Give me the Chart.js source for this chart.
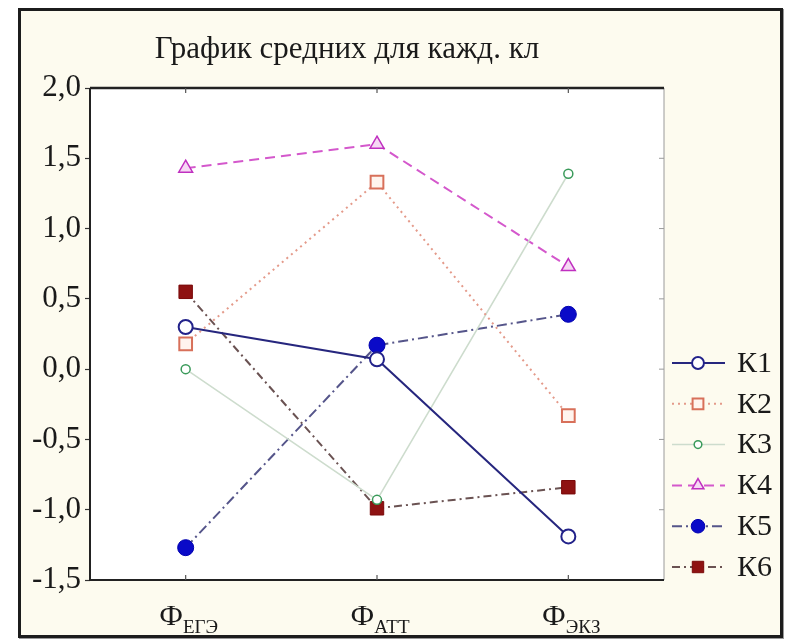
<!DOCTYPE html>
<html>
<head>
<meta charset="utf-8">
<script src="https://cdn.jsdelivr.net/npm/chart.js@4.4.1/dist/chart.umd.min.js"></script>
<style>
  html, body { margin: 0; padding: 0; background: #ffffff; width: 792px; height: 640px; overflow: hidden; }
  #frame { position: absolute; left: 18px; top: 8px; width: 759px; height: 624px;
           border: 3px solid #1c1c1c; background: #fdfbef; box-shadow: 1px 1px 0 #999; }
  canvas { display: block; }
</style>
</head>
<body>
<div id="frame"><canvas id="c" width="759" height="624"></canvas></div>
<script>
// ---- data ----
const categories = ["ФЕГЭ", "ФАТТ", "ФЭКЗ"];
const xMain = ["Ф", "Ф", "Ф"];
const xSub = ["ЕГЭ", "АТТ", "ЭКЗ"];
const seriesNames = ["К1", "К2", "К3", "К4", "К5", "К6"];
const k1 = [0.30, 0.07, -1.19];
const k2 = [0.18, 1.33, -0.33];
const k3 = [0.00, -0.93, 1.39];
const k4 = [1.43, 1.60, 0.73];
const k5 = [-1.27, 0.17, 0.39];
const k6 = [0.55, -0.99, -0.84];
const yTicks = [2.0, 1.5, 1.0, 0.5, 0.0, -0.5, -1.0, -1.5];
const titleText = "График средних для кажд. кл";

const SERIF = "'Liberation Serif', 'DejaVu Serif', serif";

const datasets = [
  { label: seriesNames[0], data: k1, borderColor: '#26267e', borderWidth: 2, borderDash: [],
    pointStyle: 'circle', pointRadius: 7, pointBorderWidth: 2, pointBorderColor: '#22228a', pointBackgroundColor: '#ffffff' },
  { label: seriesNames[1], data: k2, borderColor: '#e49a8a', borderWidth: 2, borderDash: [2, 4],
    pointStyle: 'rect', pointRadius: 9, pointBorderWidth: 2, pointBorderColor: '#d8705a', pointBackgroundColor: '#fff4ee' },
  { label: seriesNames[2], data: k3, borderColor: '#cddccd', borderWidth: 1.5, borderDash: [],
    pointStyle: 'circle', pointRadius: 4.5, pointBorderWidth: 1.5, pointBorderColor: '#3a9a5a', pointBackgroundColor: '#ffffff' },
  { label: seriesNames[3], data: k4, borderColor: '#d458cc', borderWidth: 2, borderDash: [10, 6],
    pointStyle: 'triangle', pointRadius: 8, pointBorderWidth: 1.5, pointBorderColor: '#c030c0', pointBackgroundColor: '#f6d8f4' },
  { label: seriesNames[4], data: k5, borderColor: '#55558a', borderWidth: 2, borderDash: [10, 4, 2, 4],
    pointStyle: 'circle', pointRadius: 8, pointBorderWidth: 1, pointBorderColor: '#0000b0', pointBackgroundColor: '#0a0ac8' },
  { label: seriesNames[5], data: k6, borderColor: '#6a5252', borderWidth: 2, borderDash: [8, 4, 2, 4],
    pointStyle: 'rect', pointRadius: 9.5, pointBorderWidth: 1, pointBorderColor: '#7a0a0a', pointBackgroundColor: '#8e1212' }
];
datasets.forEach(d => { d.fill = false; d.tension = 0; d.pointHoverRadius = d.pointRadius; });

const framePlugin = {
  id: 'framePlugin',
  beforeDatasetsDraw(chart) {
    const { ctx, chartArea: a } = chart;
    ctx.save();
    ctx.fillStyle = '#ffffff';
    ctx.fillRect(a.left, a.top, a.right - a.left, a.bottom - a.top);
    ctx.restore();
  },
  beforeDraw(chart) {},
  afterDatasetsDraw(chart) {
    const { ctx, chartArea: a, scales } = chart;
    ctx.save();
    // right border thin grey with small ticks
    ctx.strokeStyle = '#9a9a9a'; ctx.lineWidth = 1;
    ctx.beginPath(); ctx.moveTo(a.right, a.top); ctx.lineTo(a.right, a.bottom); ctx.stroke();
    yTicks.forEach(v => {
      const y = scales.y.getPixelForValue(v);
      ctx.beginPath(); ctx.moveTo(a.right - 5, y); ctx.lineTo(a.right, y); ctx.stroke();
    });
    // top, left, bottom dark
    ctx.strokeStyle = '#222'; ctx.lineWidth = 2.5;
    ctx.beginPath(); ctx.moveTo(a.left, a.top); ctx.lineTo(a.right, a.top); ctx.stroke();
    ctx.lineWidth = 2;
    ctx.beginPath(); ctx.moveTo(a.left, a.top); ctx.lineTo(a.left, a.bottom); ctx.lineTo(a.right, a.bottom); ctx.stroke();
    // small category ticks at bottom and top
    ctx.lineWidth = 1.2; ctx.strokeStyle = '#555';
    categories.forEach((c, i) => {
      const x = scales.x.getPixelForValue(i);
      ctx.beginPath(); ctx.moveTo(x, a.bottom); ctx.lineTo(x, a.bottom - 5); ctx.stroke();
      ctx.beginPath(); ctx.moveTo(x, a.top); ctx.lineTo(x, a.top + 5); ctx.stroke();
    });
    ctx.restore();
  },
  afterDraw(chart) {
    const { ctx, chartArea: a, scales } = chart;
    ctx.save();
    // title
    ctx.fillStyle = '#1a1a1a';
    ctx.font = '31px ' + SERIF;
    ctx.textAlign = 'center'; ctx.textBaseline = 'middle';
    ctx.fillText(titleText, 326, 39);
    // x labels with subscripts
    categories.forEach((c, i) => {
      const x = scales.x.getPixelForValue(i);
      ctx.font = '30px ' + SERIF;
      const w1 = ctx.measureText(xMain[i]).width;
      ctx.font = '19px ' + SERIF;
      const w2 = ctx.measureText(xSub[i]).width;
      const start = x + 3 - (w1 + w2) / 2;
      ctx.textAlign = 'left'; ctx.textBaseline = 'alphabetic';
      ctx.font = '30px ' + SERIF;
      ctx.fillText(xMain[i], start, a.bottom + 45);
      ctx.font = '19px ' + SERIF;
      ctx.fillText(xSub[i], start + w1, a.bottom + 53);
    });
    // legend
    const lx0 = 651, lx1 = 704, mx = 677, tx = 716;
    chart.data.datasets.forEach((d, i) => {
      const y = 352 + i * 40.8;
      ctx.save();
      ctx.strokeStyle = d.borderColor; ctx.lineWidth = d.borderWidth;
      ctx.setLineDash(d.borderDash || []);
      ctx.beginPath(); ctx.moveTo(lx0, y); ctx.lineTo(lx1, y); ctx.stroke();
      ctx.restore();
      ctx.save();
      ctx.fillStyle = d.pointBackgroundColor; ctx.strokeStyle = d.pointBorderColor;
      ctx.lineWidth = d.pointBorderWidth;
      Chart.helpers.drawPoint(ctx, { pointStyle: d.pointStyle, radius: d.pointRadius * 0.85, borderWidth: d.pointBorderWidth }, mx, y);
      ctx.restore();
      ctx.fillStyle = '#1a1a1a';
      ctx.font = '30px ' + SERIF;
      ctx.textAlign = 'left'; ctx.textBaseline = 'middle';
      ctx.fillText(d.label, tx, y + 1);
    });
    ctx.restore();
  }
};

new Chart(document.getElementById('c'), {
  type: 'line',
  data: { labels: categories, datasets: datasets },
  options: {
    responsive: false,
    animation: false,
    devicePixelRatio: 1,
    layout: { padding: { top: 77, right: 116, bottom: 0, left: 0 } },
    plugins: { legend: { display: false }, title: { display: false }, tooltip: { enabled: false } },
    scales: {
      x: {
        type: 'category', offset: true,
        grid: { display: false, drawTicks: false },
        border: { display: false },
        ticks: { display: false },
        afterFit(s) { s.height = 55; }
      },
      y: {
        min: -1.5, max: 2.0,
        afterBuildTicks(s) { s.ticks = yTicks.map(v => ({ value: v })); },
        grid: { drawOnChartArea: false, drawTicks: true, tickLength: 5, color: '#333', tickWidth: 1.2 },
        border: { display: false },
        ticks: {
          color: '#1a1a1a', padding: 4,
          font: { family: SERIF, size: 31 },
          callback: v => v.toFixed(1).replace('.', ',')
        },
        afterFit(s) { s.width = 69; }
      }
    }
  },
  plugins: [framePlugin]
});
</script>
</body>
</html>
